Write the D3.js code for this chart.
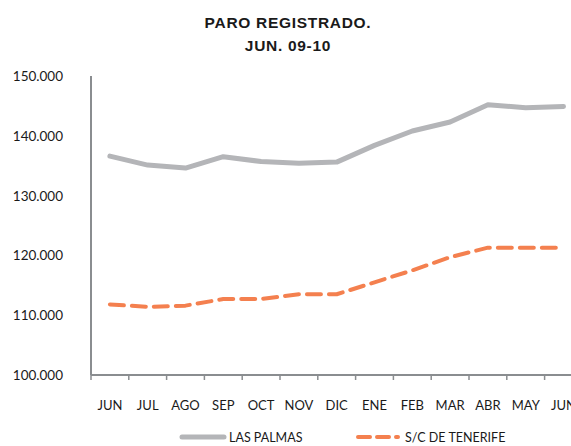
<!DOCTYPE html>
<html>
<head>
<meta charset="utf-8">
<script src="https://cdn.jsdelivr.net/npm/d3@7"></script>
<style>
  body { margin: 0; background: #fff; }
  svg text { font-family: Lato, "Liberation Sans", sans-serif; fill: #1a1a1a; }
</style>
</head>
<body>
<div id="chart"></div>
<script>
let months = ["JUN", "JUL", "AGO", "SEP", "OCT", "NOV", "DIC", "ENE", "FEB", "MAR", "ABR", "MAY", "JUN"];
let las_palmas = [136600, 135100, 134600, 136500, 135700, 135400, 135600, 138400, 140800, 142300, 145200, 144700, 144900];
let tenerife = [111800, 111400, 111600, 112700, 112700, 113500, 113500, 115500, 117500, 119700, 121300, 121300, 121300];
let y_ticks = [100000, 110000, 120000, 130000, 140000, 150000];

let width_chart = 571, height_chart = 446;
let margin_chart = {top: 76, left: 91, bottom: 71};
let band_width = 37.8;

let svg_chart = d3.select("#chart").append("svg")
    .attr("width", width_chart)
    .attr("height", height_chart);

// title
let title = svg_chart.append("text")
    .attr("text-anchor", "middle")
    .style("font-family", "'Liberation Sans', Arial, sans-serif")
    .style("font-weight", "bold")
    .style("font-size", "15.5px")
    .style("letter-spacing", "0.7px");
title.append("tspan").attr("x", 288).attr("y", 28).text("PARO REGISTRADO.");
title.append("tspan").attr("x", 288).attr("y", 51).text("JUN. 09-10");

let xScale_chart = d3.scaleBand()
    .domain(d3.range(months.length))
    .range([margin_chart.left, margin_chart.left + band_width * months.length]);

let yScale_chart = d3.scaleLinear()
    .domain([100000, 150000])
    .range([height_chart - margin_chart.bottom, margin_chart.top]);

// y labels
svg_chart.selectAll(".yLabel")
    .data(y_ticks)
    .join("text")
    .attr("class", "yLabel")
    .attr("x", 63)
    .attr("y", d => yScale_chart(d) + 5)
    .attr("text-anchor", "end")
    .style("font-size", "13.5px")
    .text(d => d3.format(",")(d).replace(",", "."));

// x axis
let xAxis_chart = d3.axisBottom(xScale_chart)
    .tickSize(0)
    .tickFormat(i => months[i]);
let gx = svg_chart.append("g")
    .attr("transform", "translate(0," + yScale_chart(100000) + ")")
    .call(xAxis_chart);
gx.select(".domain").remove();
gx.selectAll("text")
    .attr("dy", 0)
    .attr("y", 35)
    .style("font-size", "13px")
    .style("font-family", "Lato, 'Liberation Sans', sans-serif")
    .attr("fill", "#1a1a1a");

// tick marks between categories
svg_chart.selectAll(".xTickMark")
    .data(d3.range(months.length + 1))
    .join("line")
    .attr("class", "xTickMark")
    .attr("x1", i => margin_chart.left + i * xScale_chart.step())
    .attr("x2", i => margin_chart.left + i * xScale_chart.step())
    .attr("y1", yScale_chart(100000))
    .attr("y2", yScale_chart(100000) + 5)
    .attr("stroke", "#8a8d90")
    .attr("stroke-width", 1.5);

// axis lines
svg_chart.append("line")
    .attr("x1", margin_chart.left).attr("x2", margin_chart.left)
    .attr("y1", yScale_chart(150000)).attr("y2", yScale_chart(100000))
    .attr("stroke", "#8a8d90").attr("stroke-width", 2);
svg_chart.append("line")
    .attr("x1", margin_chart.left).attr("x2", width_chart)
    .attr("y1", yScale_chart(100000)).attr("y2", yScale_chart(100000))
    .attr("stroke", "#8a8d90").attr("stroke-width", 2);

let line_gen = d3.line()
    .x((d, i) => xScale_chart(i) + xScale_chart.bandwidth() / 2)
    .y(d => yScale_chart(d));

svg_chart.append("path")
    .datum(las_palmas)
    .attr("d", line_gen)
    .attr("fill", "none")
    .attr("stroke", "#b4b5b8")
    .attr("stroke-width", 5)
    .attr("stroke-linecap", "round")
    .attr("stroke-linejoin", "round");

svg_chart.append("path")
    .datum(tenerife)
    .attr("d", line_gen)
    .attr("fill", "none")
    .attr("stroke", "#f4804f")
    .attr("stroke-width", 4)
    .attr("stroke-dasharray", "14,8")
    .attr("stroke-linecap", "round")
    .attr("stroke-linejoin", "round");

// legend
let legend_y = 437;
svg_chart.append("line")
    .attr("x1", 182).attr("x2", 224)
    .attr("y1", legend_y).attr("y2", legend_y)
    .attr("stroke", "#b4b5b8").attr("stroke-width", 5).attr("stroke-linecap", "round");
svg_chart.append("text")
    .attr("x", 229).attr("y", legend_y + 5)
    .style("font-size", "12.5px")
    .text("LAS PALMAS");
svg_chart.append("line")
    .attr("x1", 358).attr("x2", 398)
    .attr("y1", legend_y).attr("y2", legend_y)
    .attr("stroke", "#f4804f").attr("stroke-width", 4)
    .attr("stroke-dasharray", "12,7").attr("stroke-linecap", "round");
svg_chart.append("text")
    .attr("x", 405).attr("y", legend_y + 5)
    .style("font-size", "12.5px")
    .text("S/C DE TENERIFE");
</script>
</body>
</html>
